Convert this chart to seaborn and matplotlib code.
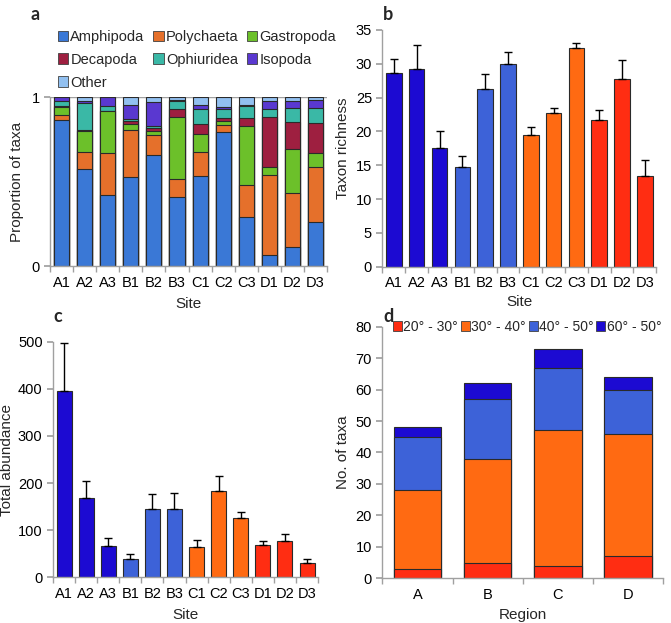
import numpy as np
import pandas as pd
import seaborn as sns
import matplotlib.pyplot as plt
from matplotlib.patches import Patch

# ---- data ----
sites = ['A1', 'A2', 'A3', 'B1', 'B2', 'B3', 'C1', 'C2', 'C3', 'D1', 'D2', 'D3']
taxa = ['Amphipoda', 'Polychaeta', 'Gastropoda', 'Decapoda', 'Ophiuridea', 'Isopoda', 'Other']

amphipoda = [0.864, 0.574, 0.420, 0.525, 0.655, 0.406, 0.533, 0.794, 0.288, 0.065, 0.114, 0.262]
polychaeta = [0.030, 0.100, 0.250, 0.280, 0.122, 0.107, 0.142, 0.040, 0.191, 0.473, 0.320, 0.322]
gastropoda = [0.050, 0.124, 0.250, 0.034, 0.024, 0.367, 0.107, 0.025, 0.351, 0.047, 0.257, 0.083]
decapoda = [0.005, 0.010, 0.000, 0.020, 0.014, 0.049, 0.061, 0.016, 0.049, 0.300, 0.163, 0.178]
ophiuridea = [0.030, 0.160, 0.025, 0.010, 0.016, 0.049, 0.087, 0.055, 0.069, 0.044, 0.079, 0.089]
isopoda = [0.021, 0.012, 0.055, 0.085, 0.139, 0.007, 0.024, 0.014, 0.006, 0.051, 0.047, 0.050]
other = [0.000, 0.020, 0.000, 0.046, 0.030, 0.015, 0.046, 0.056, 0.046, 0.020, 0.020, 0.016]

richness = [28.7, 29.2, 17.5, 14.7, 26.2, 30.0, 19.5, 22.7, 32.3, 21.7, 27.8, 13.4]
richness_top = [30.7, 32.8, 20.0, 16.4, 28.5, 31.8, 20.6, 23.4, 33.0, 23.2, 30.6, 15.7]

abundance = [395, 168, 67, 39, 144, 146, 64, 184, 126, 69, 76, 30]
abundance_top = [498, 205, 83, 50, 176, 179, 80, 216, 138, 78, 92, 39]

regions = ['A', 'B', 'C', 'D']
lat_labels = ['20° - 30°', '30° - 40°', '40° - 50°', '60° - 50°']
lat_20_30 = [3, 5, 4, 7]
lat_30_40 = [25, 33, 43, 39]
lat_40_50 = [17, 19, 20, 14]
lat_60_50 = [3, 5, 6, 4]

# ---- style ----
taxa_colors = ['#3a78d6', '#e5702b', '#6cc02a', '#9e1f40', '#3ab8a6', '#5a38d0', '#92c0f0']
c_red, c_orange, c_blue, c_dark = '#ff2d12', '#ff6a12', '#3d62d8', '#1c0ad2'
site_colors = [c_dark] * 3 + [c_blue] * 3 + [c_orange] * 3 + [c_red] * 3
lat_colors = [c_red, c_orange, c_blue, c_dark]
edge = '#2a2a2a'
axis_gray = '#a0a0a0'
tick_fs = 10.5
label_fs = 11

sns.set_theme(style='white')
plt.rcParams['font.family'] = ['Liberation Sans', 'DejaVu Sans']
plt.rcParams['font.size'] = 10.5

fig = plt.figure(figsize=(6.71, 6.23), dpi=100)
ax_a = fig.add_axes([0.0745, 0.573, 0.413, 0.271])
ax_b = fig.add_axes([0.570, 0.572, 0.408, 0.380])
ax_c = fig.add_axes([0.079, 0.0734, 0.395, 0.378])
ax_d = fig.add_axes([0.570, 0.0717, 0.418, 0.404])


def excel_axes(ax, n):
    for s in ['top', 'right']:
        ax.spines[s].set_visible(False)
    for s in ['left', 'bottom']:
        ax.spines[s].set_color(axis_gray)
        ax.spines[s].set_linewidth(1)
    ax.set_xlim(-0.5, n - 0.5)
    ax.set_xticks(np.arange(-0.5, n, 1.0), minor=True)
    ax.tick_params(axis='x', which='major', length=0, pad=7, labelsize=tick_fs, colors='black')
    ax.tick_params(axis='x', which='minor', length=4, color=axis_gray, direction='out', bottom=True)
    ax.tick_params(axis='y', which='major', length=4, color=axis_gray, direction='out', left=True,
                   labelsize=tick_fs, labelcolor='black')


# ---- panel a: stacked proportions ----
df_a = pd.DataFrame({'site': sites, 'Amphipoda': amphipoda, 'Polychaeta': polychaeta,
                     'Gastropoda': gastropoda, 'Decapoda': decapoda, 'Ophiuridea': ophiuridea,
                     'Isopoda': isopoda, 'Other': other})
cum_a = df_a[taxa].cumsum(axis=1)
for t, col in reversed(list(zip(taxa, taxa_colors))):
    sns.barplot(x=df_a['site'], y=cum_a[t], color=col, edgecolor=edge, linewidth=0.8,
                width=0.65, saturation=1, ax=ax_a)
ax_a.axhline(1, color=axis_gray, lw=1, zorder=0)
ax_a.set_ylim(0, 1)
ax_a.set_yticks([0, 1])
ax_a.set_yticklabels(['0', '1'])
excel_axes(ax_a, 12)
ax_a.set_xlabel('Site', fontsize=label_fs, labelpad=5)
ax_a.set_ylabel('Proportion of taxa', fontsize=label_fs, labelpad=5)
# row-major legend order for ncol=3
order = [0, 3, 6, 1, 4, 2, 5]
handles = [Patch(facecolor=taxa_colors[i], edgecolor='#404040', lw=0.6) for i in order]
ax_a.legend(handles, [taxa[i] for i in order], ncol=3, loc='lower left',
            bbox_to_anchor=(0.029, 1.045), frameon=False, fontsize=10.5, handlelength=0.7,
            handleheight=0.75, handletextpad=0.15, columnspacing=0.6, labelspacing=0.6,
            borderaxespad=0.0, borderpad=0.0)

# ---- panel b: taxon richness ----
sns.barplot(x=sites, y=richness, hue=sites, palette=site_colors, legend=False,
            edgecolor=edge, linewidth=0.8, width=0.68, saturation=1, ax=ax_b)
err_b = np.array(richness_top) - np.array(richness)
ax_b.errorbar(np.arange(12), richness, yerr=[np.zeros(12), err_b], fmt='none',
              ecolor='black', elinewidth=1, capsize=3, capthick=1)
ax_b.set_ylim(0, 35)
ax_b.set_yticks(range(0, 36, 5))
excel_axes(ax_b, 12)
ax_b.set_xlabel('Site', fontsize=label_fs, labelpad=3)
ax_b.set_ylabel('Taxon richness', fontsize=label_fs, labelpad=4)

# ---- panel c: total abundance ----
sns.barplot(x=sites, y=abundance, hue=sites, palette=site_colors, legend=False,
            edgecolor=edge, linewidth=0.8, width=0.68, saturation=1, ax=ax_c)
err_c = np.array(abundance_top) - np.array(abundance)
ax_c.errorbar(np.arange(12), abundance, yerr=[np.zeros(12), err_c], fmt='none',
              ecolor='black', elinewidth=1, capsize=3, capthick=1)
ax_c.set_ylim(0, 500)
ax_c.set_yticks(range(0, 501, 100))
excel_axes(ax_c, 12)
ax_c.set_xlabel('Site', fontsize=label_fs, labelpad=5)
ax_c.set_ylabel('Total abundance', fontsize=label_fs, labelpad=3)

# ---- panel d: taxa per region by latitude ----
df_d = pd.DataFrame({'region': regions, lat_labels[0]: lat_20_30, lat_labels[1]: lat_30_40,
                     lat_labels[2]: lat_40_50, lat_labels[3]: lat_60_50})
cum_d = df_d[lat_labels].cumsum(axis=1)
for lab, col in reversed(list(zip(lat_labels, lat_colors))):
    sns.barplot(x=df_d['region'], y=cum_d[lab], color=col, edgecolor=edge, linewidth=0.8,
                width=0.68, saturation=1, ax=ax_d)
ax_d.set_ylim(0, 80)
ax_d.set_yticks(range(0, 81, 10))
excel_axes(ax_d, 4)
ax_d.set_xlabel('Region', fontsize=label_fs, labelpad=4)
ax_d.set_ylabel('No. of taxa', fontsize=label_fs, labelpad=4)
handles_d = [Patch(facecolor=c, edgecolor='#404040', lw=0.6) for c in lat_colors]
ax_d.legend(handles_d, lat_labels, ncol=4, loc='center left', bbox_to_anchor=(0.037, 1.0),
            frameon=False, fontsize=10, handlelength=0.65, handleheight=0.7,
            handletextpad=0.1, columnspacing=0.2, borderaxespad=0.0, borderpad=0.0)

# ---- panel letters ----
for x, y, s in [(0.045, 0.99, 'a'), (0.571, 0.99, 'b'), (0.080, 0.505, 'c'), (0.571, 0.505, 'd')]:
    fig.text(x, y, s, fontsize=13, fontweight='bold', family=['Lato', 'DejaVu Sans'],
             va='top', ha='left')

fig.savefig('out.png', dpi=100)
